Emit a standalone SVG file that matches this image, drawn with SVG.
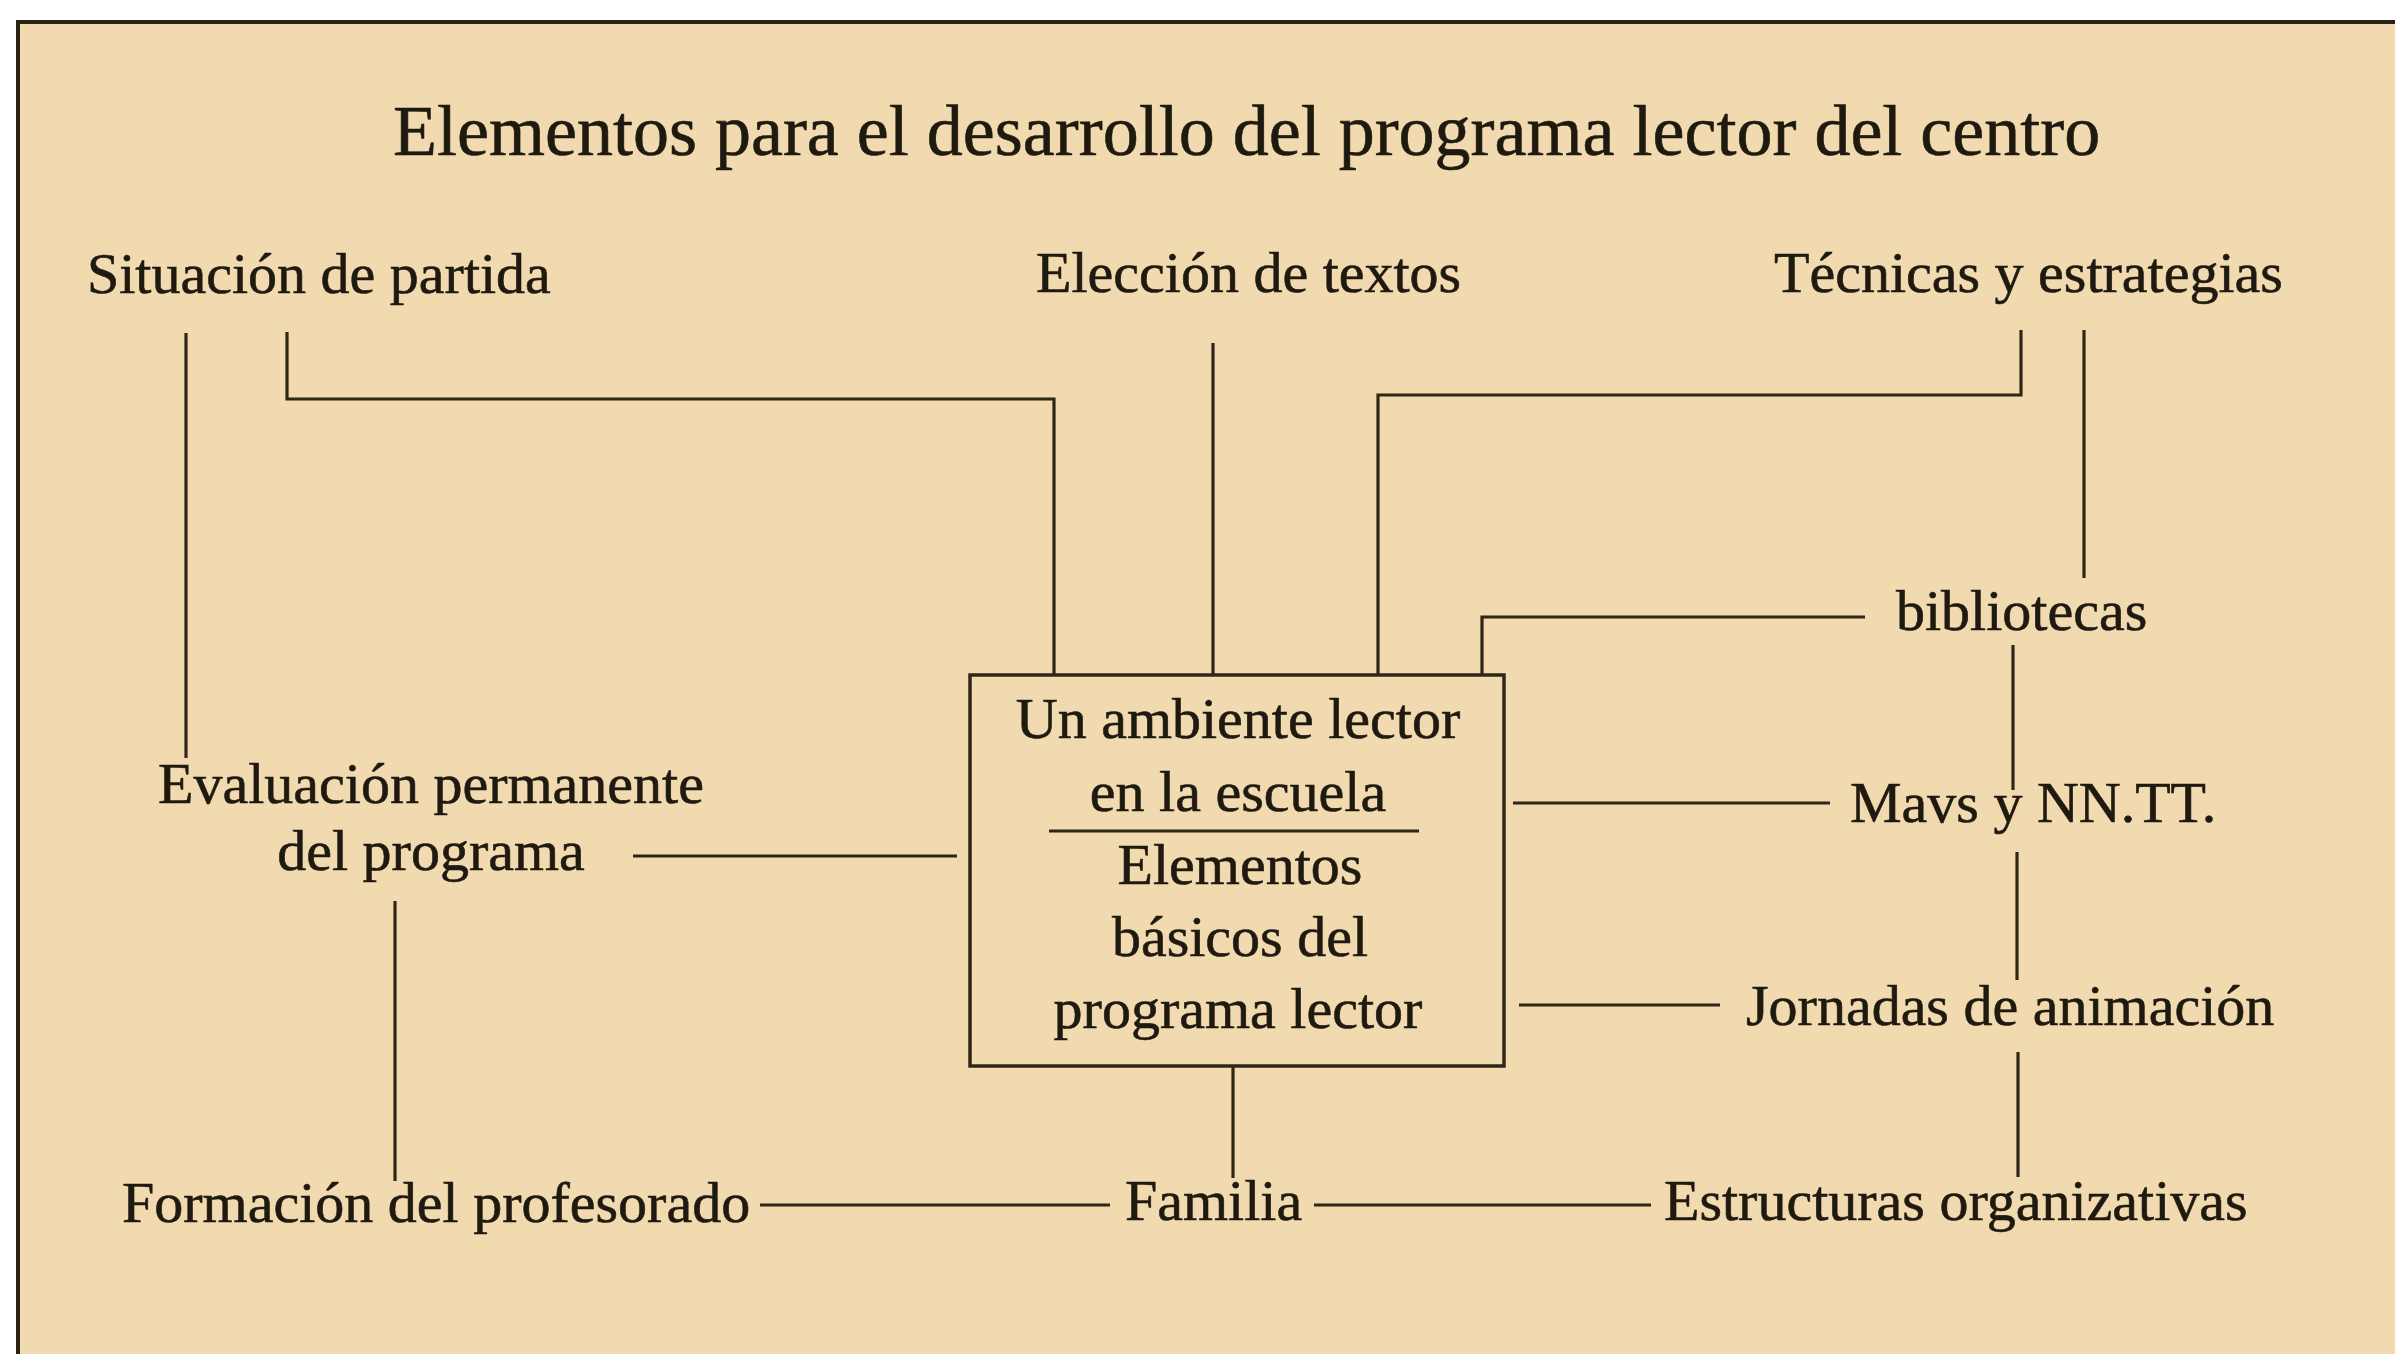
<svg xmlns="http://www.w3.org/2000/svg" width="2395" height="1354" viewBox="0 0 2395 1354">
<style>
text{font-family:"Liberation Serif","Times New Roman",serif;fill:#1f1a10;stroke:#1f1a10;stroke-width:0.6;font-size:58px}
.title{font-size:72px}
.c{text-anchor:middle}
.ln{fill:none;stroke:#2e2616;stroke-width:3.2;stroke-linecap:butt;stroke-linejoin:miter}
.box{fill:none;stroke:#2e2616;stroke-width:3.5}
</style>
<rect x="0" y="0" width="2395" height="1354" fill="#ffffff"/>
<rect x="18" y="22" width="2400" height="1400" fill="#f2dab0" stroke="#2a2214" stroke-width="4"/>
<g id="title"><text class="title" x="393" y="155">Elementos para el desarrollo del programa lector del centro</text></g>
<g id="connectors">
<path class="ln" d="M186,333 V758"/>
<path class="ln" d="M287,332 V399 H1054 V675"/>
<path class="ln" d="M1213,343 V675"/>
<path class="ln" d="M2021,330 V395 H1378 V675"/>
<path class="ln" d="M2084,330 V578"/>
<path class="ln" d="M1865,617 H1482 V675"/>
<path class="ln" d="M2013,645 V790"/>
<path class="ln" d="M1513,803 H1830"/>
<path class="ln" d="M2017,852 V980"/>
<path class="ln" d="M1519,1005 H1720"/>
<path class="ln" d="M2018,1052 V1177"/>
<path class="ln" d="M1314,1205 H1651"/>
<path class="ln" d="M1233,1066 V1178"/>
<path class="ln" d="M760,1205 H1110"/>
<path class="ln" d="M633,856 H957"/>
<path class="ln" d="M395,901 V1181"/>
</g>
<g id="center">
<rect class="box" x="970" y="675" width="534" height="391"/>
<text class="c" x="1238" y="738">Un ambiente lector</text>
<text class="c" x="1238" y="811">en la escuela</text>
<line class="ln" x1="1049" y1="831" x2="1419" y2="831"/>
<text class="c" x="1240" y="884">Elementos</text>
<text class="c" x="1240" y="956">básicos del</text>
<text class="c" x="1238" y="1028">programa lector</text>
</g>
<g id="situacion"><text x="87" y="293">Situación de partida</text></g>
<g id="eleccion"><text x="1036" y="292">Elección de textos</text></g>
<g id="tecnicas"><text x="1774" y="292">Técnicas y estrategias</text></g>
<g id="bibliotecas"><text x="1896" y="630">bibliotecas</text></g>
<g id="mavs"><text x="1850" y="822">Mavs y NN.TT.</text></g>
<g id="jornadas"><text x="1746" y="1025">Jornadas de animación</text></g>
<g id="estructuras"><text x="1664" y="1220">Estructuras organizativas</text></g>
<g id="familia"><text x="1125" y="1220">Familia</text></g>
<g id="formacion"><text x="122" y="1222">Formación del profesorado</text></g>
<g id="evaluacion">
<text class="c" x="431" y="803">Evaluación permanente</text>
<text class="c" x="431" y="870">del programa</text>
</g>
</svg>
